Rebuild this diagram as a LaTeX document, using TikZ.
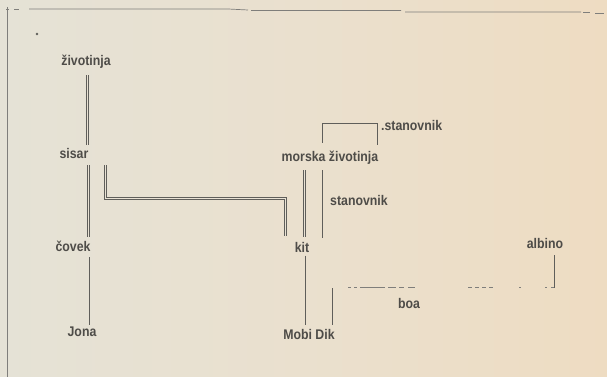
\documentclass[tikz,border=0pt]{standalone}
\usepackage{fontspec}
\newfontfamily\lblfont[FakeStretch=0.88]{Liberation Sans}
\usetikzlibrary{calc}
\definecolor{bgleft}{RGB}{229,226,214}
\definecolor{bgmid}{RGB}{234,224,206}
\definecolor{bgright}{RGB}{238,220,194}
\definecolor{inkc}{RGB}{78,76,72}
\definecolor{linec}{RGB}{95,94,90}
\definecolor{fillc}{RGB}{233,226,212}
\begin{document}
\begin{tikzpicture}[x=1pt,y=-1pt,
  lbl/.style={inner sep=0pt,text height=10pt,text depth=3pt,text=inkc,font=\lblfont\bfseries\fontsize{14}{16}\selectfont},
  ln/.style={draw=linec,line width=0.8pt},
  dbl/.style={draw=linec,line width=0.85pt,double=fillc,double distance=1.4pt},
  faint/.style={draw=linec!80,line width=0.7pt}]
\useasboundingbox (0,0) rectangle (607,377);
\shade[left color=bgleft,right color=bgright,middle color=bgmid] (0,0) rectangle (607,377);
% frame
\draw[faint] (7,7) -- (7,377);
\draw[faint] (6,9) -- (9,9) (14,9) -- (19,9);
\draw[faint] (29,9) -- (228,9) -- (248,10) (251,10.5) -- (401,10.5) (405,12) -- (581,12);
\draw[faint] (583,12) -- (590,12) (595,13) -- (604,13);
\fill[linec] (37,34) circle (1.3);
% nodes
\node[lbl] (ziv) at (86,62) {životinja};
\node[lbl] (sisar) at (74,155) {sisar};
\node[lbl] (covek) at (73,248) {čovek};
\node[lbl] (jona) at (82,333) {Jona};
\node[lbl] (mz) at (330,158) {morska životinja};
\node[lbl,anchor=west] (stan2) at (381,127) {.stanovnik};
\node[lbl,anchor=west] (stan) at (330,202) {stanovnik};
\node[lbl] (kit) at (302,249) {kit};
\node[lbl] (mobi) at (309,336) {Mobi Dik};
\node[lbl] (boa) at (409,305) {boa};
\node[lbl] (albino) at (545,245) {albino};
% connectors
\draw[dbl] ($(ziv.south)+(1.5,6.5)$) -- ($(sisar.north)+(13.5,-3.5)$);
\draw[dbl] ($(sisar.south)+(14.5,3.5)$) -- ($(covek.north)+(15.5,-4.5)$);
\draw[dbl] ($(sisar.south)+(31.5,3.5)$) -- ++(0,33) -| ($(kit.north)+(-16.5,-6.5)$);
\draw[ln] ($(covek.south)+(16,2.5)$) -- ($(jona.north)+(7,-1.5)$);
\draw[dbl] ($(mz.south)+(-25.5,5.5)$) -- ($(kit.north)+(2.5,-5.5)$);
\draw[ln] ($(mz.south)+(-8,5.5)$) -- ($(stan.south west)+(-8,29.5)$);
\draw[ln] ($(mz.north)+(-8,-8.5)$) -- ++(0,-19) -| ($(mz.north)+(47,-6.5)$);
\draw[ln] ($(kit.south)+(3,0)$) -- ($(mobi.north)+(-4,-4.5)$);
\draw[ln] ($(mobi.north)+(23,-4.5)$) -- ++(0,-37) coordinate (c1);
\coordinate (c2) at ($(albino.south)+(9,3.5)$);
\draw[ln] (c2) -- (c2 |- c1);
\draw[faint,dash pattern=on 0pt off 16pt on 3pt off 3pt on 3pt off 3pt on 25pt off 3pt on 8pt off 3pt on 5pt off 4pt on 7pt off 53pt on 4pt off 3pt on 4pt off 3pt on 4pt off 3pt on 4pt off 26pt on 2pt off 24pt on 2pt off 4pt on 3pt off 20pt] (c1) -- (c2 |- c1);
\end{tikzpicture}
\end{document}
